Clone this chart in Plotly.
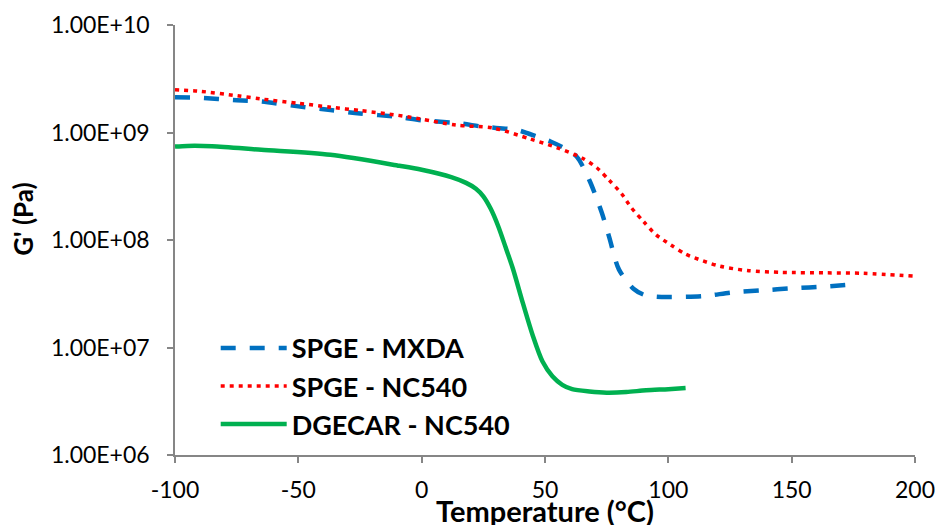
import plotly.graph_objects as go

# --- data ---
mxda_T = [-100, -90, -75, -65, -50, -37, -25, -10, 0, 15, 25, 39, 47, 52, 59, 63, 68, 73, 76, 80,
          86, 90, 95, 101, 114, 126, 138, 150, 164, 177]
mxda_G = [2.13e9, 2.1e9, 2.0e9, 1.94e9, 1.75e9, 1.62e9, 1.5e9, 1.4e9, 1.3e9, 1.22e9, 1.13e9, 1.05e9,
          9.1e8, 8.3e8, 6.9e8, 5.9e8, 3.6e8, 1.8e8, 1.07e8, 5.3e7, 3.5e7, 3.1e7, 2.97e7, 2.95e7,
          3.0e7, 3.25e7, 3.4e7, 3.55e7, 3.7e7, 3.9e7]

nc540_T = [-100, -90, -75, -65, -50, -37, -25, -10, 0, 14, 29, 44, 55, 65, 71, 76, 81, 85, 90, 95,
           101, 107, 114, 121, 132, 146, 164, 179, 200]
nc540_G = [2.5e9, 2.42e9, 2.2e9, 2.05e9, 1.87e9, 1.72e9, 1.6e9, 1.45e9, 1.33e9, 1.17e9, 1.1e9,
           8.7e8, 7.2e8, 5.8e8, 4.7e8, 3.6e8, 2.7e8, 2.0e8, 1.48e8, 1.12e8, 9.0e7, 7.4e7, 6.4e7,
           5.7e7, 5.2e7, 5.0e7, 4.95e7, 4.9e7, 4.6e7]

dgecar_T = [-100, -95, -85, -65, -37, -9, 0, 12, 18, 22, 25, 28, 31, 34, 37, 41, 45, 49, 53, 57,
            61, 68, 75, 83, 91, 100, 107]
dgecar_G = [7.4e8, 7.5e8, 7.45e8, 6.9e8, 6.2e8, 4.9e8, 4.5e8, 3.85e8, 3.4e8, 3.0e8, 2.55e8, 1.95e8,
            1.35e8, 8.6e7, 5.4e7, 2.6e7, 1.3e7, 7.4e6, 5.4e6, 4.5e6, 4.1e6, 3.9e6, 3.8e6, 3.85e6,
            4.0e6, 4.1e6, 4.2e6]

x_tickvals = [-100, -50, 0, 50, 100, 150, 200]
x_ticktext = ["-100", "-50", "0", "50", "100", "150", "200"]
y_tickvals = [1e6, 1e7, 1e8, 1e9, 1e10]
y_ticktext = ["1.00E+06", "1.00E+07", "1.00E+08", "1.00E+09", "1.00E+10"]

series_names = ["SPGE - MXDA", "SPGE - NC540", "DGECAR - NC540"]

FONT = "Lato, 'Open Sans', sans-serif"
AXIS = "#868686"

fig = go.Figure()
fig.add_trace(go.Scatter(x=mxda_T, y=mxda_G, mode="lines", name=series_names[0],
                         line=dict(color="#0070C0", width=4.5, dash="15px,14px",
                                   shape="spline", smoothing=0.8)))
fig.add_trace(go.Scatter(x=nc540_T, y=nc540_G, mode="lines", name=series_names[1],
                         line=dict(color="#FF0000", width=3.5, dash="4px,5px",
                                   shape="spline", smoothing=0.8)))
fig.add_trace(go.Scatter(x=dgecar_T, y=dgecar_G, mode="lines", name=series_names[2],
                         line=dict(color="#00B050", width=4.5, shape="spline", smoothing=0.8)))

fig.update_layout(
    width=937, height=525,
    margin=dict(l=175, r=22, t=25, b=70),
    paper_bgcolor="white", plot_bgcolor="white",
    font=dict(family=FONT, size=23, color="black"),
    showlegend=True,
    legend=dict(x=0.055, y=0.305, xanchor="left", yanchor="top",
                bgcolor="rgba(0,0,0,0)",
                font=dict(family=FONT, size=27, color="black", weight="bold"),
                itemwidth=66, tracegroupgap=0),
)
fig.update_xaxes(
    range=[-100, 200], tickvals=x_tickvals, ticktext=x_ticktext,
    showgrid=False, zeroline=False, automargin=False,
    showline=True, linecolor=AXIS, linewidth=1.5,
    ticks="outside", ticklen=6, tickcolor=AXIS, tickwidth=1.5,
    ticklabelstandoff=8,
    tickfont=dict(family=FONT, size=23, color="black"),
)
fig.update_yaxes(
    type="log", range=[6, 10], tickvals=y_tickvals, ticktext=y_ticktext,
    showgrid=False, zeroline=False, automargin=False,
    showline=True, linecolor=AXIS, linewidth=1.5,
    ticks="outside", ticklen=6, tickcolor=AXIS, tickwidth=1.5,
    ticklabelstandoff=13,
    tickfont=dict(family=FONT, size=23, color="black"),
)
fig.add_annotation(text="<b>Temperature (°C)</b>", xref="paper", yref="paper",
                   x=0.5, y=0, xanchor="center", yanchor="top", yshift=-36,
                   showarrow=False, font=dict(family=FONT, size=29, color="black"))
fig.add_annotation(text="<b>G' (Pa)</b>", xref="paper", yref="paper",
                   x=0, y=0.547, xanchor="center", yanchor="middle", xshift=-152,
                   textangle=-90, showarrow=False,
                   font=dict(family=FONT, size=26, color="black"))

# remove the default 8px page margin so the figure fills the 937x525 window exactly
fig.write_html("out.html",
               config={"displayModeBar": False},
               post_script="document.body.style.margin='0';document.body.style.overflow='hidden';")
